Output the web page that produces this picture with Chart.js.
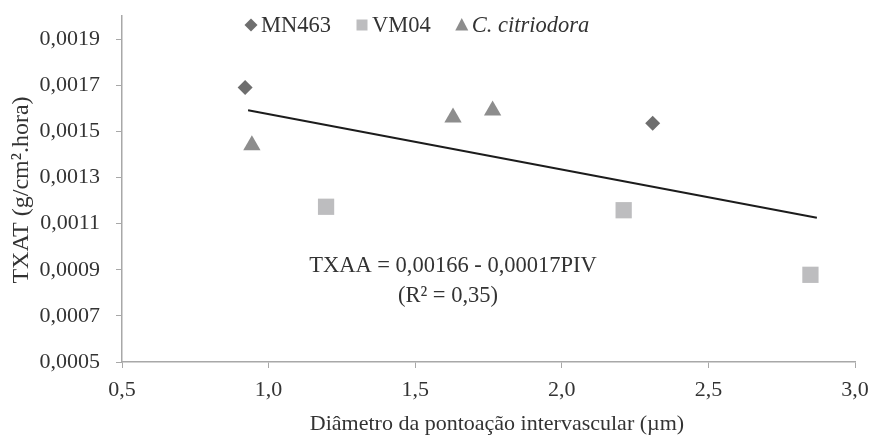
<!DOCTYPE html>
<html>
<head>
<meta charset="utf-8">
<script src="https://cdn.jsdelivr.net/npm/chart.js@4"></script>
<style>
html,body{margin:0;padding:0;background:#fff;}
#wrap{width:871px;height:437px;position:relative;}
</style>
</head>
<body>
<div id="wrap"><canvas id="c" width="871" height="437"></canvas></div>
<script>
// ---- data ----
const mn463X = [0.92, 2.31];
const mn463Y = [0.00169, 0.001535];
const vm04X = [1.196, 2.211, 2.848];
const vm04Y = [0.001173, 0.001158, 0.000878];
const citrX = [0.943, 1.629, 1.764];
const citrY = [0.00144, 0.00156, 0.00159];
const trendX = [0.93, 2.87];
const trendY = [0.001591, 0.001125];
const xTicks = [0.5, 1.0, 1.5, 2.0, 2.5, 3.0];
const yTicks = [0.0005, 0.0007, 0.0009, 0.0011, 0.0013, 0.0015, 0.0017, 0.0019];
const seriesNames = ['MN463', 'VM04', 'C. citriodora'];
const eqLine1 = 'TXAA = 0,00166 - 0,00017PIV';
const eqLine2 = '(R² = 0,35)';
const xTitle = 'Diâmetro da pontoação intervascular (µm)';
const yTitle = 'TXAT (g/cm².hora)';

const FONT = '"Liberation Serif", "Times New Roman", serif';
const TXT = '#333333';
const AXIS = '#a8a8a8';
const C_MN = '#6e6e6e';
const C_VM = '#bdbdbf';
const C_CI = '#8d8d8d';

const pts = (xs, ys) => xs.map((x, i) => ({x: x, y: ys[i]}));

const overlay = {
  id: 'overlay',
  afterDraw(chart) {
    const ctx = chart.ctx;
    ctx.save();
    // legend
    ctx.textBaseline = 'alphabetic';
    const items = [
      {name: seriesNames[0], color: C_MN, style: 'diamond', italic: false},
      {name: seriesNames[1], color: C_VM, style: 'square', italic: false},
      {name: seriesNames[2], color: C_CI, style: 'triangle', italic: true}
    ];
    let x = 245;
    const cy = 25;
    const base = 32;
    items.forEach((it) => {
      ctx.fillStyle = it.color;
      const mx = x + 6;
      ctx.beginPath();
      if (it.style === 'diamond') {
        ctx.moveTo(mx, cy - 6.5); ctx.lineTo(mx + 6.5, cy); ctx.lineTo(mx, cy + 6.5); ctx.lineTo(mx - 6.5, cy);
      } else if (it.style === 'square') {
        ctx.rect(mx - 5.5, cy - 5.5, 11, 11);
      } else {
        ctx.moveTo(mx, cy - 7); ctx.lineTo(mx + 6.5, cy + 5.5); ctx.lineTo(mx - 6.5, cy + 5.5);
      }
      ctx.closePath();
      ctx.fill();
      ctx.font = (it.italic ? 'italic ' : '') + '22.5px ' + FONT;
      ctx.fillStyle = TXT;
      ctx.textAlign = 'left';
      const tx = x + 16;
      ctx.fillText(it.name, tx, base);
      x = tx + ctx.measureText(it.name).width + 25;
    });
    // equation
    ctx.font = '22.5px ' + FONT;
    ctx.textAlign = 'center';
    ctx.textBaseline = 'middle';
    ctx.fillStyle = TXT;
    ctx.fillText(eqLine1, 453, 266);
    ctx.fillText(eqLine2, 448, 296);
    // axis titles
    ctx.font = '22px ' + FONT;
    ctx.fillText(xTitle, 497, 424);
    ctx.save();
    ctx.translate(22, 190);
    ctx.rotate(-Math.PI / 2);
    ctx.font = '24px ' + FONT;
    ctx.fillText(yTitle, 0, 0);
    ctx.restore();
    ctx.restore();
  }
};

new Chart(document.getElementById('c'), {
  type: 'scatter',
  data: {
    datasets: [
      {label: seriesNames[0], data: pts(mn463X, mn463Y), pointStyle: 'rectRot', pointRadius: 7.5,
       backgroundColor: C_MN, borderColor: C_MN, borderWidth: 0},
      {label: seriesNames[1], data: pts(vm04X, vm04Y), pointStyle: 'rect', pointRadius: 11.5,
       backgroundColor: C_VM, borderColor: C_VM, borderWidth: 0},
      {label: seriesNames[2], data: pts(citrX, citrY), pointStyle: 'triangle', pointRadius: 10,
       backgroundColor: C_CI, borderColor: C_CI, borderWidth: 0},
      {label: 'trend', type: 'line', data: pts(trendX, trendY), showLine: true, pointRadius: 0,
       borderColor: '#1c1c1c', borderWidth: 2, fill: false}
    ]
  },
  options: {
    responsive: false,
    animation: false,
    devicePixelRatio: 1,
    layout: {padding: {left: 0, right: 16, top: 16, bottom: 0}},
    plugins: {legend: {display: false}, tooltip: {enabled: false}},
    scales: {
      x: {
        type: 'linear', min: 0.5, max: 3.0,
        afterBuildTicks: s => { s.ticks = xTicks.map(v => ({value: v})); },
        afterFit: s => { s.height = 75; s.paddingLeft = 0; s.paddingRight = 0; },
        grid: {drawOnChartArea: false, drawTicks: true, tickLength: 6, color: AXIS, lineWidth: 1},
        border: {color: AXIS, width: 1.5},
        ticks: {padding: 9, color: TXT, font: {family: FONT, size: 22},
          callback: v => v.toFixed(1).replace('.', ',')},
        title: {display: false}
      },
      y: {
        type: 'linear', min: 0.0005, max: 0.0020,
        afterBuildTicks: s => { s.ticks = yTicks.map(v => ({value: v})); },
        afterFit: s => { s.width = 122; s.paddingTop = 0; s.paddingBottom = 0; },
        grid: {drawOnChartArea: false, drawTicks: true, tickLength: 6, color: AXIS, lineWidth: 1},
        border: {color: AXIS, width: 1.5},
        ticks: {padding: 16, color: TXT, font: {family: FONT, size: 22},
          callback: v => v.toFixed(4).replace('.', ',')},
        title: {display: false}
      }
    }
  },
  plugins: [overlay]
});
</script>
</body>
</html>
